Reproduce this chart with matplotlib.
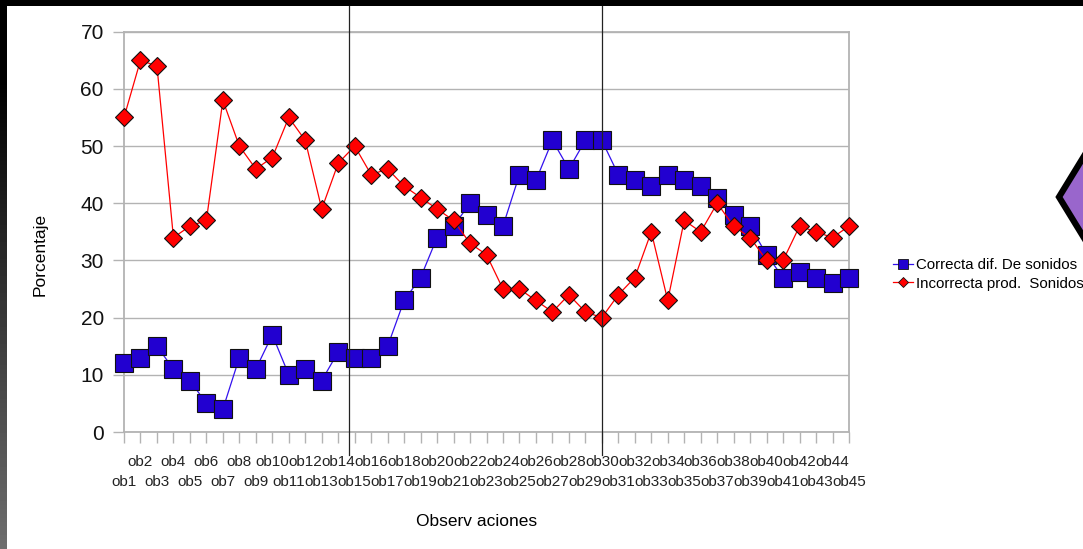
import numpy as np
import matplotlib
matplotlib.use("Agg")
import matplotlib.pyplot as plt
from matplotlib.lines import Line2D
from matplotlib.patches import Rectangle, Polygon

plt.rcParams['font.family'] = ['Liberation Sans', 'DejaVu Sans']

# Observations ob1..ob45 and percentages for both series
obs = ['ob%d' % i for i in range(1, 46)]
correcta = [12, 13, 15, 11, 9, 5, 4, 13, 11, 17, 10, 11, 9, 14, 13,
            13, 15, 23, 27, 34, 36, 40, 38, 36, 45, 44, 51, 46, 51, 51,
            45, 44, 43, 45, 44, 43, 41, 38, 36, 31, 27, 28, 27, 26, 27]
incorrecta = [55, 65, 64, 34, 36, 37, 58, 50, 46, 48, 55, 51, 39, 47, 50,
              45, 46, 43, 41, 39, 37, 33, 31, 25, 25, 23, 21, 24, 21, 20,
              24, 27, 35, 23, 37, 35, 40, 36, 34, 30, 30, 36, 35, 34, 36]
yticks = [0, 10, 20, 30, 40, 50, 60, 70]

W, H = 1083, 549
fig = plt.figure(figsize=(W / 100, H / 100), dpi=100)
fig.patch.set_facecolor('white')

# dark frame: black band on top, gradient strip on the left
fig.patches.append(Rectangle((0, 1 - 6 / H), 1, 6 / H, transform=fig.transFigure,
                             facecolor='black', edgecolor='none', zorder=0))
strip = fig.add_axes([0, 0, 7 / W, 1])
rows = np.arange(H)
grad = 110 * np.clip((rows - 80) / 469.0, 0, 1) / 255.0
strip.imshow(np.repeat(grad[:, None], 2, axis=1), cmap='gray', vmin=0, vmax=1,
             aspect='auto', extent=[0, 1, 0, 1], origin='upper')
strip.axis('off')

# purple diamond peeking in at the right edge
fig.patches.append(Polygon([(1059 / W, 1 - 197 / H), (1089 / W, 1 - 148 / H),
                            (1119 / W, 1 - 197 / H), (1089 / W, 1 - 246 / H)],
                           closed=True, transform=fig.transFigure,
                           facecolor='#9966cc', edgecolor='black', linewidth=4.5,
                           zorder=0))

ax = fig.add_axes([124 / W, 1 - 432 / H, (849 - 124) / W, (432 - 31.7) / H])
x = np.arange(len(obs))

ax.plot(x, correcta, color='#3311ee', linewidth=0.9, marker='s', markersize=13.5,
        markerfacecolor='#2200d0', markeredgecolor='#111111', markeredgewidth=0.8,
        label='Correcta dif. De sonidos', clip_on=False, zorder=3)
ax.plot(x, incorrecta, color='#ff0000', linewidth=0.9, marker='D', markersize=9.4,
        markerfacecolor='#ff0000', markeredgecolor='#111111', markeredgewidth=0.8,
        label='Incorrecta prod.  Sonidos', clip_on=False, zorder=4)

ax.set_xlim(0, len(obs) - 1)
ax.set_ylim(0, 70)
ax.set_yticks(yticks)
ax.set_yticklabels([str(v) for v in yticks], fontsize=15, color='#111111')
ax.set_xticks(x)
ax.set_xticklabels([])
ax.yaxis.grid(True, color='#b3b3b3', linewidth=1.0)
ax.set_axisbelow(True)
ax.tick_params(axis='both', direction='out', length=8, width=1.0, color='#b3b3b3')
ax.tick_params(axis='y', pad=6.5)
for s in ax.spines.values():
    s.set_color('#b3b3b3')
    s.set_linewidth(1.3)

# staggered category labels: odd observations on the lower row
for i, name in enumerate(obs):
    yrow = -0.075 if i % 2 == 1 else -0.125
    ax.text(i, yrow, name, transform=ax.get_xaxis_transform(), ha='center',
            va='center', fontsize=11, color='#222222')

fig.text(40 / W, 1 - 254 / H, 'Porcentaje', rotation=90, ha='center', va='center',
         fontsize=12.5)
fig.text(477 / W, 1 - 521 / H, 'Observ aciones', ha='center', va='center',
         fontsize=12.5)

# the two vertical divider lines
for xp in (349, 602):
    fig.add_artist(Line2D([xp / W, xp / W], [1 - 6 / H, 1 - 455 / H],
                          transform=fig.transFigure, color='#222222',
                          linewidth=0.9, zorder=5))

h1 = Line2D([], [], color='#3311ee', linewidth=0.9, marker='s', markersize=7,
            markerfacecolor='#2200d0', markeredgecolor='#111111', markeredgewidth=0.6)
h2 = Line2D([], [], color='#ff0000', linewidth=0.9, marker='D', markersize=5.5,
            markerfacecolor='#ff0000', markeredgecolor='#111111', markeredgewidth=0.6)
fig.legend([h1, h2], ['Correcta dif. De sonidos', 'Incorrecta prod.  Sonidos'],
           loc='upper left', bbox_to_anchor=(893 / W, 1 - 258 / H),
           frameon=False, fontsize=10.8, handlelength=1.35, handletextpad=0.2,
           borderpad=0, borderaxespad=0, labelspacing=0.3)

fig.savefig('out.png', dpi=100)
